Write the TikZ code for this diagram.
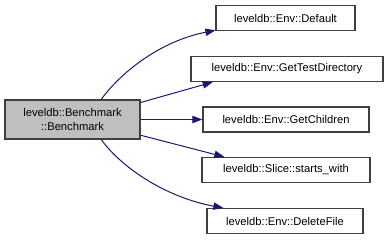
\documentclass[tikz,border=0pt]{standalone}
\usepackage{fontspec}
\setmainfont{Liberation Sans}
\usetikzlibrary{arrows.meta}
\definecolor{edgeblue}{HTML}{191970}
\definecolor{focusgrey}{HTML}{BFBFBF}
\begin{document}
\begin{tikzpicture}[x=0.75pt,y=-0.75pt,
  fn/.style={draw=black!75!white,line width=0.9pt,fill=white,inner sep=0pt,
    font=\fontsize{8.4pt}{10.6pt}\selectfont,minimum height=18.75pt},
  focus/.style={fn,fill=focusgrey,align=center},
  call/.style={draw=edgeblue,line width=0.75pt,
    -{Triangle[length=7.5pt,width=5.5pt]}}]
\useasboundingbox (0,0) rectangle (389,240);
% caller
\node[focus,minimum width=101.25pt,minimum height=29.25pt] (main) at (72.5,119.5)
  {leveldb::Benchmark\\::Benchmark};
% callees
\node[fn,minimum width=104.25pt] (def)  at (285.5,18)  {leveldb::Env::Default};
\node[fn,minimum width=144pt]    (gtd)  at (287,69)    {leveldb::Env::GetTestDirectory};
\node[fn,minimum width=124.5pt]  (gch)  at (286,119.5) {leveldb::Env::GetChildren};
\node[fn,minimum width=126pt]    (sw)   at (286,170)   {leveldb::Slice::starts\_with};
\node[fn,minimum width=117pt]    (del)  at (285,221)   {leveldb::Env::DeleteFile};
% calls
\draw[call] (main.35) .. controls +(22,-30) and +(-52,10) .. (def.190.5);
\draw[call] (main.14) -- (gtd.190.6);
\draw[call] (main.east) -- (gch.west);
\draw[call] (main.-13) -- (sw.168.9);
\draw[call] (main.-35) .. controls +(22,30) and +(-55,-10) .. (del.168.3);
\end{tikzpicture}
\end{document}
